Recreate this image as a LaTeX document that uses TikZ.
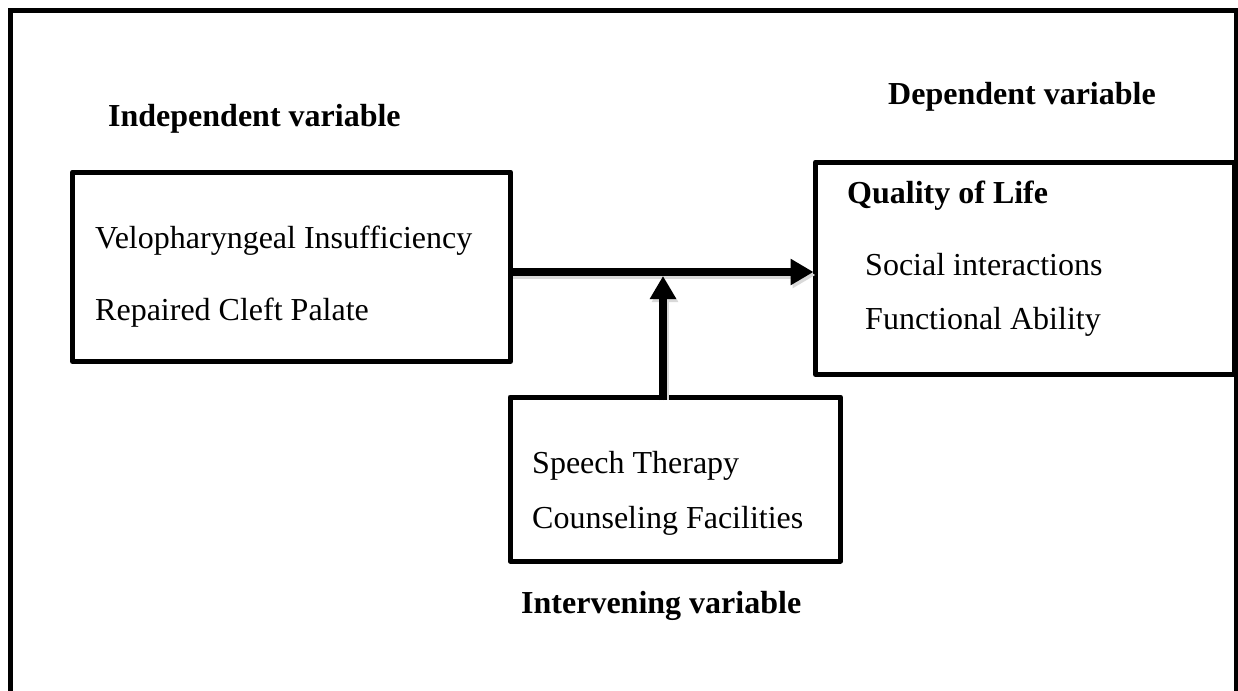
\documentclass[tikz,border=0pt]{standalone}
\usepackage{fontspec}
\setmainfont{Liberation Serif}
\usetikzlibrary{arrows.meta}
\begin{document}
\begin{tikzpicture}[x=1pt,y=-1pt,
  box/.style={draw=black, line width=5pt, rectangle, inner sep=0pt, outer sep=0pt, line join=round},
  txt/.style={anchor=base west, inner sep=0pt, font=\fontsize{32}{38}\selectfont},
  head/.style={txt, font=\fontsize{32}{38}\selectfont\bfseries},
  arrowline/.style={line width=7.5pt, -{Triangle[length=23pt,width=25pt]}},
  shadowline/.style={arrowline, draw=black!15, transform canvas={shift={(2pt,-3pt)}}}]
\useasboundingbox (0,0) rectangle (1238,690);
\clip (0,0) rectangle (1238,690);
\fill[white] (0,0) rectangle (1238,690);
% outer frame
\draw[line width=5pt] (10.5,10.5) rectangle (1236,720);
% boxes
\node[box, minimum width=438pt, minimum height=189.5pt] (iv) at (291.5,266.75) {};
\node[box, minimum width=419pt, minimum height=212.5pt] (dv) at (1025,268.25) {};
\node[box, minimum width=330.5pt, minimum height=164pt] (mv) at (675.25,479) {};
% helper coordinates
\coordinate (hy) at (0,272);
\coordinate (jn) at (663,276);
% shadows
\draw[shadowline] (iv.east |- hy) -- ([xshift=-2pt]dv.west |- hy);
\draw[shadowline] (mv.north -| jn) -- (jn);
% arrows
\draw[arrowline, fill=black] (iv.east |- hy) -- ([xshift=-2pt]dv.west |- hy);
\draw[arrowline, fill=black] ([yshift=-3pt]mv.north -| jn) -- (jn);
% headings
\node[head] (ivh) at (108,127) {Independent variable};
\node[head] (dvh) at (888,105) {Dependent variable};
\node[head] (mvh) at (521,613) {Intervening variable};
% box texts
\node[txt] (t1) at (95,248) {Velopharyngeal Insufficiency};
\node[txt] (t2) at (95,320) {Repaired Cleft Palate};
\node[head] (t3) at (847,203) {Quality of Life};
\node[txt] (t4) at (865,275) {Social interactions};
\node[txt] (t5) at (865,329) {Functional Ability};
\node[txt] (t6) at (532,473) {Speech Therapy};
\node[txt] (t7) at (532,528) {Counseling Facilities};
\end{tikzpicture}
\end{document}
